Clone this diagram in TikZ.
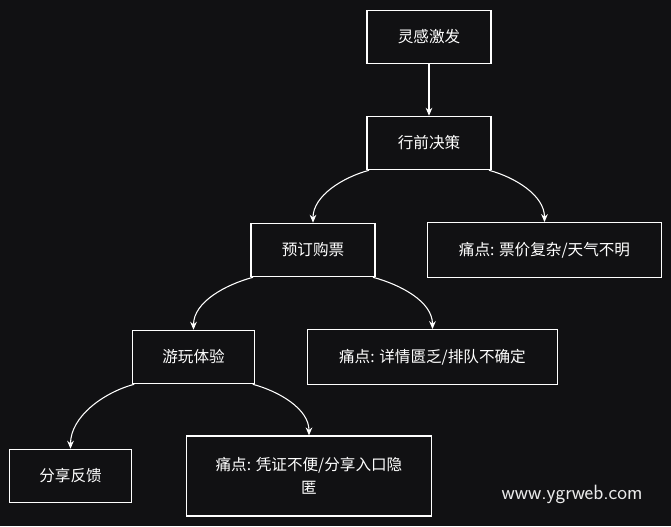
\documentclass[tikz,border=0pt]{standalone}
\usepackage{fontspec}
\setmainfont{Noto Sans CJK SC}
\usetikzlibrary{arrows.meta}
\definecolor{bg}{HTML}{111113}
\begin{document}
\begin{tikzpicture}[x=0.75pt,y=-0.75pt,
  box/.style={draw=white,line width=0.9pt,text=white,font=\fontsize{11.7}{17}\selectfont,inner sep=0pt,align=center},
  edge/.style={draw=white,line width=0.8pt,-{Stealth[length=6pt,width=5pt]}}]
\fill[bg] (0,0) rectangle (671,526);
\useasboundingbox (0,0) rectangle (671,526);
\node[box,minimum width=93pt,minimum height=40pt] (a) at (429,37) {灵感激发};
\node[box,minimum width=93pt,minimum height=40pt] (b) at (429,143) {行前决策};
\node[box,minimum width=93pt,minimum height=40pt] (c) at (313,250) {预订购票};
\node[box,minimum width=175pt,minimum height=41pt] (d) at (544.5,250) {痛点: 票价复杂/天气不明};
\node[box,minimum width=92pt,minimum height=40pt] (e) at (193.5,357) {游玩体验};
\node[box,minimum width=187pt,minimum height=41pt] (f) at (432.5,357) {痛点: 详情匮乏/排队不确定};
\node[box,minimum width=92pt,minimum height=40pt] (g) at (70.5,476) {分享反馈};
\node[box,minimum width=184pt,minimum height=60pt] (h) at (309,476) {痛点: 凭证不便/分享入口隐\\匿};
\node[text=white!92!black,font=\fontsize{15.5}{18}\selectfont\sffamily] (w) at (572,494) {www.ygrweb.com};
\draw[edge] (a.south) -- (b.north);
\draw[edge] ([xshift=2pt]b.south west) to[out=195,in=90,looseness=0.9] (c.north);
\draw[edge] ([xshift=-2pt]b.south east) to[out=-15,in=90,looseness=0.9] (d.north);
\draw[edge] ([xshift=2pt]c.south west) to[out=195,in=90,looseness=0.9] (e.north);
\draw[edge] ([xshift=-2pt]c.south east) to[out=-15,in=90,looseness=0.9] (f.north);
\draw[edge] ([xshift=2pt]e.south west) to[out=195,in=90,looseness=0.9] (g.north);
\draw[edge] ([xshift=-2pt]e.south east) to[out=-15,in=90,looseness=0.9] (h.north);
\end{tikzpicture}
\end{document}
